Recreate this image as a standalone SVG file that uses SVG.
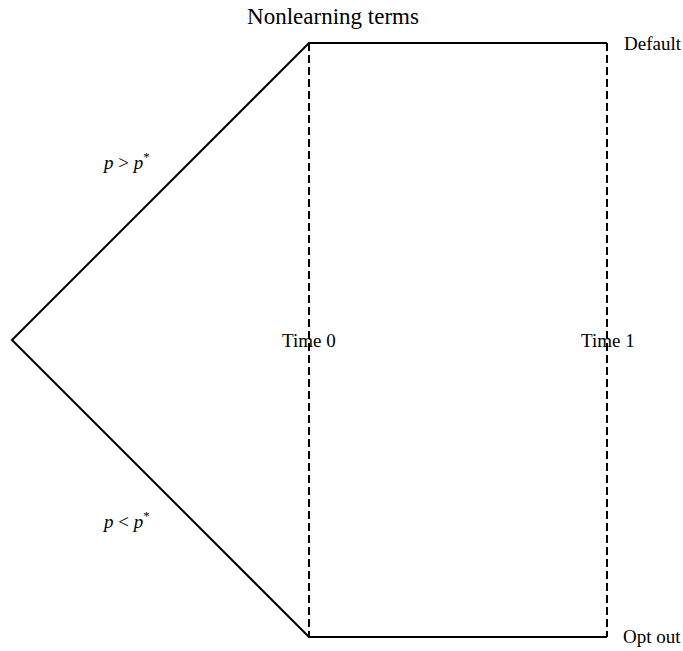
<svg xmlns="http://www.w3.org/2000/svg" width="683" height="651" viewBox="0 0 683 651">
<style>
.t{font-family:"Liberation Serif","Times New Roman",serif;font-size:19px;fill:#000}
.ln{stroke:#000;stroke-width:2;fill:none}
.ds{stroke:#000;stroke-width:2;fill:none;stroke-dasharray:8,4}
</style>
<rect width="683" height="651" fill="#fff"/>
<g id="connectors">
<polyline class="ln" points="607,43 309,43 12,340 309,637 607,637"/>
<line class="ds" x1="309" y1="43" x2="309" y2="637"/>
<line class="ds" x1="607" y1="43" x2="607" y2="637"/>
</g>
<g id="title"><text class="t" x="333" y="24" text-anchor="middle" style="font-size:23px">Nonlearning terms</text></g>
<g id="default"><text class="t" x="624" y="50">Default</text></g>
<g id="optout"><text class="t" x="623" y="643">Opt out</text></g>
<g id="time0"><text class="t" x="282" y="347">Time 0</text></g>
<g id="time1"><text class="t" x="581" y="347">Time 1</text></g>
<g id="pgt"><text class="t" x="104" y="169" font-style="italic">p<tspan font-style="normal"> &gt; </tspan>p<tspan dy="-8" font-size="13" font-style="normal">*</tspan></text></g>
<g id="plt"><text class="t" x="104" y="528" font-style="italic">p<tspan font-style="normal"> &lt; </tspan>p<tspan dy="-8" font-size="13" font-style="normal">*</tspan></text></g>
</svg>
